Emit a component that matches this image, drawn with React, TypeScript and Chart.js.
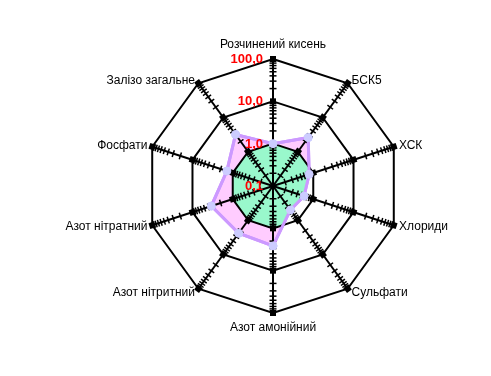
import React, { useEffect, useRef } from 'react';
import { Chart, registerables } from 'chart.js';

// ---- data ----
const CATEGORIES = [
  'Розчинений кисень',
  'БСК5',
  'ХСК',
  'Хлориди',
  'Сульфати',
  'Азот амонійний',
  'Азот нітритний',
  'Азот нітратний',
  'Фосфати',
  'Залізо загальне',
];
const NORM = [1, 1, 1, 1, 1, 1, 1, 1, 1, 1];
const MEASURED = [1.0, 2.6, 0.79, 0.59, 0.5, 2.6, 2.4, 3.4, 1.4, 3.2];
const TICK_VALUES = [0.1, 1, 10, 100];
const TICK_LABELS = ['0,1', '1,0', '10,0', '100,0'];
const MINOR_STEPS = [2, 3, 4, 5, 6, 7, 8, 9];

// clip the "norm" fill (dataset 0) to the measured polygon (dataset 1)
const clipPlugin = {
  id: 'normClip',
  beforeDatasetDraw(chart: any, args: any) {
    if (args.index !== 0) return;
    const pts = chart.getDatasetMeta(1).data;
    const ctx = chart.ctx;
    ctx.save();
    ctx.beginPath();
    pts.forEach((p: any, i: number) => (i ? ctx.lineTo(p.x, p.y) : ctx.moveTo(p.x, p.y)));
    ctx.closePath();
    ctx.clip();
  },
  afterDatasetDraw(chart: any, args: any) {
    if (args.index !== 0) return;
    chart.ctx.restore();
  },
};
Chart.register(clipPlugin);
Chart.register(...registerables);

const LABEL_FONT = '12px "Liberation Sans", Arial, sans-serif';
const TICK_FONT = 'bold 13px "Liberation Sans", Arial, sans-serif';

const overlayPlugin = {
  id: 'overlay',
  afterDraw(chart: any) {
    const scale = chart.scales.r;
    const ctx = chart.ctx;
    const n = CATEGORIES.length;
    ctx.save();
    ctx.strokeStyle = '#000';
    ctx.fillStyle = '#000';
    ctx.lineWidth = 1.5;
    for (let i = 0; i < n; i++) {
      const a = scale.getIndexAngle(i) - Math.PI / 2;
      const px = -Math.sin(a);
      const py = Math.cos(a);
      for (let d = 0; d < TICK_VALUES.length; d++) {
        const base = TICK_VALUES[d];
        if (d < TICK_VALUES.length - 1) {
          for (const m of MINOR_STEPS) {
            const p = scale.getPointPositionForValue(i, Math.log10(base * m));
            ctx.beginPath();
            ctx.moveTo(p.x - px * 3.5, p.y - py * 3.5);
            ctx.lineTo(p.x + px * 3.5, p.y + py * 3.5);
            ctx.stroke();
          }
        }
        if (d > 0) {
          const p = scale.getPointPositionForValue(i, Math.log10(base));
          ctx.save();
          ctx.translate(p.x, p.y);
          ctx.rotate(a);
          ctx.fillRect(-3, -3, 6, 6);
          ctx.restore();
        }
      }
    }
    // measured line and points on top of the grid
    const meta = chart.getDatasetMeta(1);
    meta.dataset.draw(ctx, chart.chartArea);
    meta.data.forEach((el: any) => el.draw(ctx, chart.chartArea));

    // value labels
    ctx.font = TICK_FONT;
    ctx.fillStyle = '#FF0000';
    ctx.textAlign = 'right';
    ctx.textBaseline = 'middle';
    TICK_VALUES.forEach((v, k) => {
      const p = scale.getPointPositionForValue(0, Math.log10(v));
      ctx.fillText(TICK_LABELS[k], scale.xCenter - 10, p.y + 0.5);
    });

    // category labels
    ctx.font = LABEL_FONT;
    ctx.fillStyle = '#000';
    ctx.textBaseline = 'middle';
    for (let i = 0; i < n; i++) {
      const deg = Math.round((scale.getIndexAngle(i) * 180) / Math.PI) % 360;
      const p = scale.getPointPosition(i, scale.drawingArea + 4);
      if (deg === 0) {
        ctx.textAlign = 'center';
        ctx.fillText(CATEGORIES[i], p.x, p.y - 10.5);
      } else if (deg === 180) {
        ctx.textAlign = 'center';
        ctx.fillText(CATEGORIES[i], p.x, p.y + 11);
      } else if (deg < 180) {
        ctx.textAlign = 'left';
        ctx.fillText(CATEGORIES[i], p.x + 1.5, p.y + 0.5);
      } else {
        ctx.textAlign = 'right';
        ctx.fillText(CATEGORIES[i], p.x - 1, p.y + 0.5);
      }
    }
    ctx.restore();
  },
};

export default function App() {
  const ref = useRef<HTMLCanvasElement | null>(null);
  useEffect(() => {
    if (!ref.current) return;
    const chart = new Chart(ref.current, {
      type: 'radar',
      data: {
        labels: CATEGORIES,
        datasets: [
          {
            label: 'Норма',
            data: NORM.map((v) => Math.log10(v)),
            backgroundColor: '#99F8CC',
            borderColor: 'rgba(0,0,0,0)',
            borderWidth: 1,
            pointRadius: 0,
            fill: 'start',
          },
          {
            label: 'Показники',
            data: MEASURED.map((v) => Math.log10(v)),
            backgroundColor: '#FFCCFF',
            borderColor: '#CC99FF',
            borderWidth: 3,
            pointRadius: 4,
            pointBackgroundColor: '#CCCCFF',
            pointBorderColor: '#CCCCFF',
            pointBorderWidth: 1,
            fill: 'start',
          },
        ],
      },
      options: {
        responsive: false,
        animation: false,
        events: [],
        layout: { padding: { left: 146, right: 91, top: 59, bottom: 63 } },
        plugins: { legend: { display: false }, tooltip: { enabled: false } },
        elements: { line: { tension: 0 } },
        scales: {
          r: {
            min: -1,
            max: 2,
            ticks: { display: false, stepSize: 1 },
            grid: { color: '#000', lineWidth: 2, circular: false, z: 1 },
            angleLines: { color: '#000', lineWidth: 2 },
            pointLabels: { display: false },
          },
        },
      } as any,
      plugins: [overlayPlugin],
    });
    return () => chart.destroy();
  }, []);
  return (
    <div style={{ position: 'absolute', left: 0, top: 0, width: 491, height: 376 }}>
      <canvas ref={ref} width={491} height={376} style={{ display: 'block' }} />
    </div>
  );
}
